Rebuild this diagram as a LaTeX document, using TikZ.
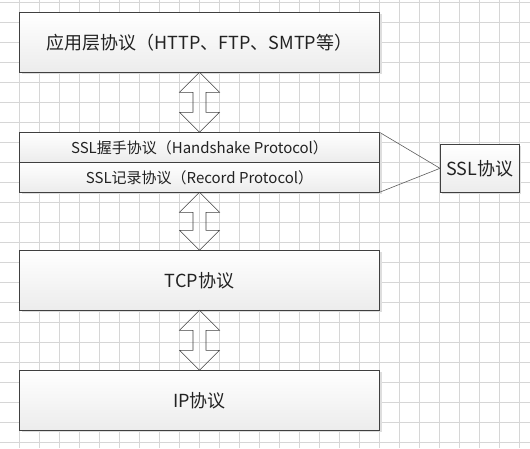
\documentclass[tikz,border=0pt]{standalone}
\usepackage{fontspec}
\setmainfont{Noto Sans CJK SC}
\usepackage{xcolor}
\usepackage{tikz}
\usetikzlibrary{positioning, calc, shadows}
\definecolor{myline}{HTML}{404040}
\definecolor{mygrid}{HTML}{D6D6D6}
\definecolor{mytext}{HTML}{222222}
\definecolor{mybottom}{HTML}{ECECEC}

% hollow double arrow between two stacked boxes
\newcommand{\fatarrow}[2]{%
  \draw[fat] (#1.south) -- ++(20pt,-20pt) -- ++(-13.5pt,0)
    -- ($(#2.north)+(6.5pt,20pt)$) -- ++(13.5pt,0) -- (#2.north)
    -- ++(-20pt,20pt) -- ++(13.5pt,0)
    -- ($(#1.south)+(-6.5pt,-20pt)$) -- ++(-13.5pt,0) -- cycle;}

\begin{document}
\begin{tikzpicture}[x=1pt, y=1pt,
    box/.style={rectangle, draw=myline, line width=0.9pt, outer sep=0pt,
      top color=white, bottom color=mybottom, text=mytext, align=center,
      drop shadow={shadow xshift=2pt, shadow yshift=-2pt, fill=black!13, opacity=1}},
    layer/.style={box, minimum width=360pt, minimum height=60pt, font=\fontsize{18}{20}\selectfont},
    row/.style={box, minimum width=360pt, minimum height=30pt, font=\fontsize{15}{17}\selectfont},
    fat/.style={draw=myline, line width=0.6pt, line join=miter},
    link/.style={draw=myline!85, line width=0.6pt},
    gridline/.style={draw=mygrid, line width=0.8pt}]
  \useasboundingbox (0,0) rectangle (530,-448);
  \fill[white] (0,0) rectangle (530,-448);
  % background grid
  \foreach \i in {0,...,26} {
    \pgfmathsetmacro{\gx}{20*\i-0.5}
    \draw[gridline] (\gx,0) -- (\gx,-448);
  }
  \foreach \j in {0,...,22} {
    \pgfmathsetmacro{\gy}{-20*\j-2.3}
    \draw[gridline] (0,\gy) -- (530,\gy);
  }

  \node[layer] (app) at (199.5,-42.3) {应用层协议（HTTP、FTP、SMTP等）};
  \node[row, below=60pt of app] (hs) {SSL握手协议（Handshake Protocol）};
  \node[row, below=0pt of hs] (rec) {SSL记录协议（Record Protocol）};
  \node[layer, below=58pt of rec] (tcp) {TCP协议};
  \node[layer, below=60pt of tcp] (ip) {IP协议};
  \node[box, minimum width=79pt, minimum height=48pt, anchor=west,
    font=\fontsize{18}{20}\selectfont] (ssl) at ($(rec.north east)+(60.5pt,-6pt)$) {SSL协议};

  \draw[link] (hs.north east) -- (ssl.west);
  \draw[link] (rec.south east) -- (ssl.west);

  \fatarrow{app}{hs}
  \fatarrow{rec}{tcp}
  \fatarrow{tcp}{ip}
\end{tikzpicture}
\end{document}
